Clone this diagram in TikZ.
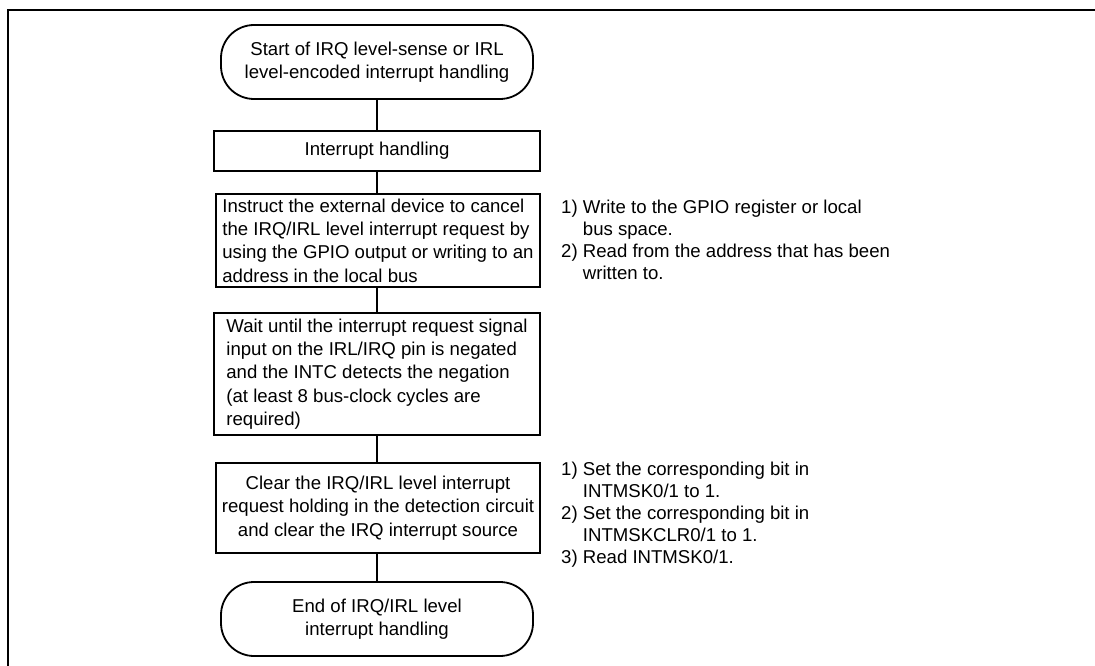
\documentclass[tikz,border=0pt]{standalone}
\usepackage{fontspec}
\setmainfont{Liberation Sans}
\begin{document}
\begin{tikzpicture}[x=1pt,y=-1pt,
  every node/.style={font=\fontsize{18.6}{23.3}\selectfont},
  stepbox/.style={draw,line width=1.8pt,rectangle,inner xsep=1pt,inner ysep=2pt},
  term/.style={draw,line width=1.8pt,rectangle,rounded corners=33pt,minimum width=312pt,minimum height=74pt,align=center},
  link/.style={line width=1.8pt},
  note/.style={anchor=north west,align=left,inner sep=0pt,font=\fontsize{18.6}{22}\selectfont}
]
\useasboundingbox (0,0) rectangle (1095,666);
% frame
\draw[line width=2pt] (8,666) -- (8,10) -- (1096,10);
% nodes
\node[term] (start) at (377,62) {Start of IRQ level-sense or IRL\\level-encoded interrupt handling};
\node[stepbox,minimum width=326pt,minimum height=40pt,align=center] (inter) at (377,151) {Interrupt handling};
\node[stepbox,minimum width=324pt,minimum height=93pt,align=left] (instr) at (378,240.5) {Instruct the external device to cancel\\the IRQ/IRL level interrupt request by\\using the GPIO output or writing to an\\address in the local bus};
\node[stepbox,minimum width=326pt,minimum height=122pt,align=left] (wait) at (377,374) {Wait until the interrupt request signal\\input on the IRL/IRQ pin is negated\\and the INTC detects the negation\\(at least 8 bus-clock cycles are\\required)};
\node[stepbox,minimum width=324pt,minimum height=90pt,align=center] (clear) at (378,508) {Clear the IRQ/IRL level interrupt\\request holding in the detection circuit\\and clear the IRQ interrupt source};
\node[term] (end) at (377,619) {End of IRQ/IRL level\\interrupt handling};
% connectors
\draw[link] (start.south) -- (inter.north);
\draw[link] (inter.south) -- (instr.north -| inter.south);
\draw[link] (instr.south -| inter.south) -- (wait.north);
\draw[link] (wait.south) -- (clear.north -| wait.south);
\draw[link] (clear.south -| wait.south) -- (end.north);
% notes
\node[note] (n1) at (561,200) {1) Write to the GPIO register or local\\\hphantom{1)}\ bus space.\\2) Read from the address that has been\\\hphantom{2)}\ written to.};
\node[note] (n2) at (561,462) {1) Set the corresponding bit in\\\hphantom{1)}\ INTMSK0/1 to 1.\\2) Set the corresponding bit in\\\hphantom{2)}\ INTMSKCLR0/1 to 1.\\3) Read INTMSK0/1.};
\end{tikzpicture}
\end{document}
